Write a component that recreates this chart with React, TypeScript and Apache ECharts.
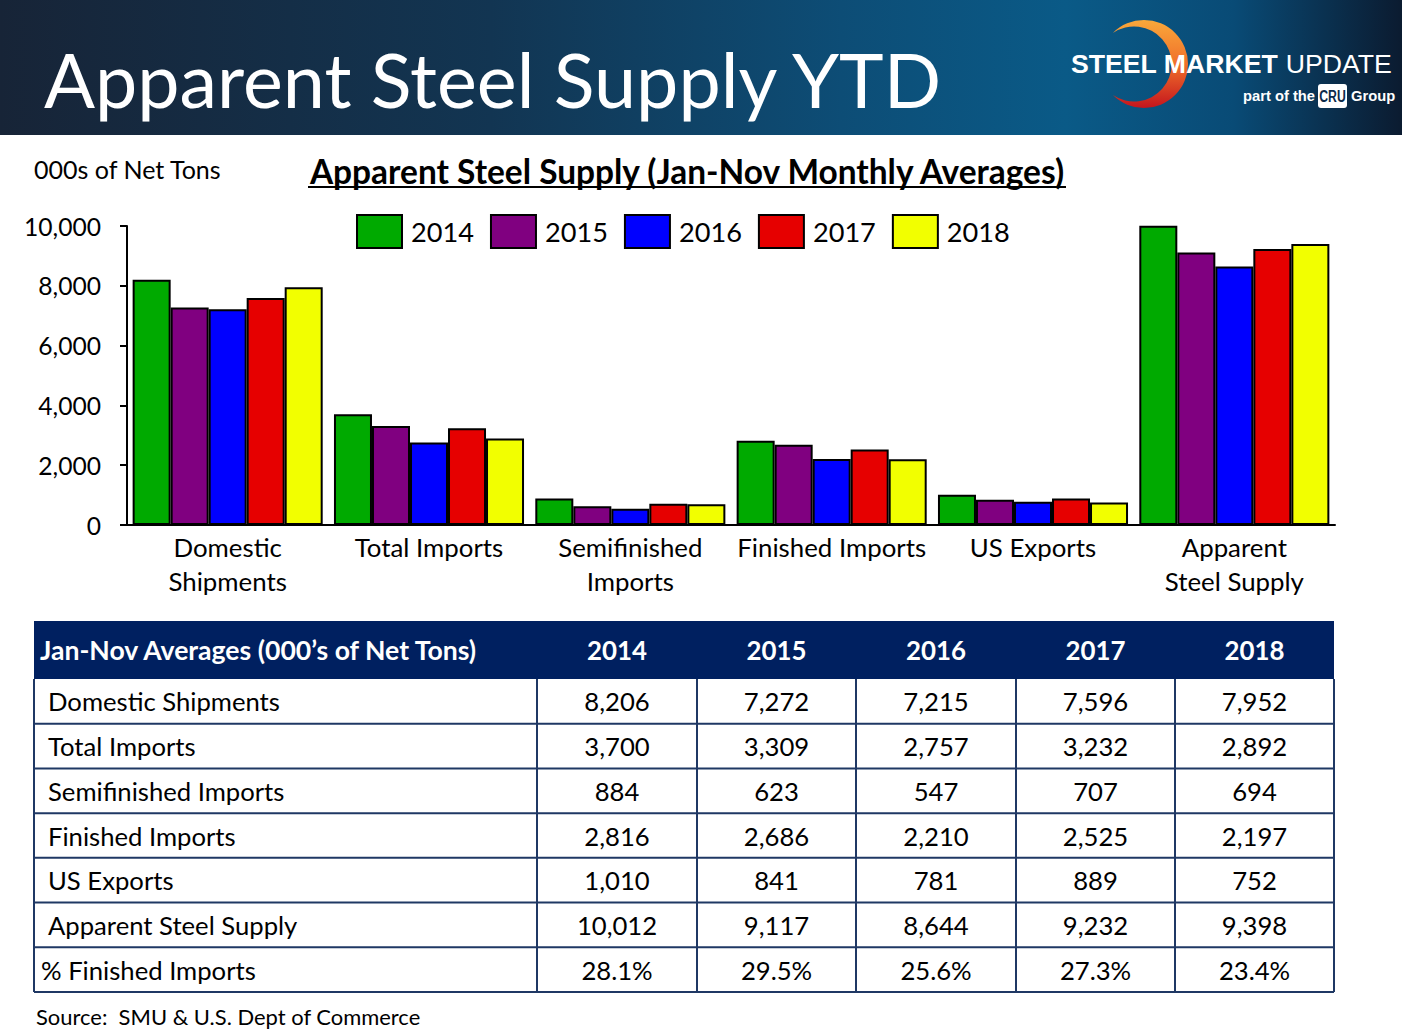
import React, { useEffect, useRef } from 'react';
import * as echarts from 'echarts';

const years = ['2014', '2015', '2016', '2017', '2018'];
const categories = [
  'Domestic Shipments',
  'Total Imports',
  'Semifinished Imports',
  'Finished Imports',
  'US Exports',
  'Apparent Steel Supply',
];
const axisLabelLines = [
  'Domestic\nShipments',
  'Total Imports',
  'Semifinished\nImports',
  'Finished Imports',
  'US Exports',
  'Apparent\nSteel Supply',
];
const values2014 = [8206, 3700, 884, 2816, 1010, 10012];
const values2015 = [7272, 3309, 623, 2686, 841, 9117];
const values2016 = [7215, 2757, 547, 2210, 781, 8644];
const values2017 = [7596, 3232, 707, 2525, 889, 9232];
const values2018 = [7952, 2892, 694, 2197, 752, 9398];
const seriesValues = [values2014, values2015, values2016, values2017, values2018];
const pctFinished = ['28.1%', '29.5%', '25.6%', '27.3%', '23.4%'];
const yMin = 0;
const yMax = 10000;
const yInterval = 2000;
const colors = ['#00aa00', '#800080', '#0000ff', '#e60000', '#f2ff00'];

const FONT = 'Lato';
const LOGO_FONT = 'Liberation Sans';

function measure(text: string, weight: string, family: string, size: number) {
  const c = document.createElement('canvas').getContext('2d') as CanvasRenderingContext2D;
  c.font = `${weight} ${size}px "${family}"`;
  return c.measureText(text).width;
}
function fit(text: string, weight: string, family: string, target: number) {
  return (100 * target) / measure(text, weight, family, 100);
}

let shapeRegistered = false;

export default function App() {
  const ref = useRef<HTMLDivElement>(null);

  useEffect(() => {
    if (!ref.current) return;
    if (!shapeRegistered) {
      const crescentPath =
        'M -31.1 -31.1 A 44 44 0 1 1 -31.1 31.1 A 37.6 37.6 0 1 0 -31.1 -31.1 Z';
      echarts.graphic.registerShape('crescent', echarts.graphic.extendPath(crescentPath, {}) as any);
      shapeRegistered = true;
    }
    const chart = echarts.init(ref.current, undefined, { renderer: 'svg' });

    const titleSize = fit('Apparent Steel Supply YTD', 'normal', FONT, 902);
    const chartTitleText = 'Apparent Steel Supply (Jan-Nov Monthly Averages)';
    const chartTitleSize = fit(chartTitleText, 'bold', FONT, 758);
    const unitSize = fit('000s of Net Tons', 'normal', FONT, 188);
    const yLabelSize = fit('10,000', 'normal', FONT, 77);
    const legendSize = fit('2014', 'normal', FONT, 63);
    const xLabelSize = fit('Finished Imports', 'normal', FONT, 189);
    const thText = 'Jan-Nov Averages (000\u2019s of Net Tons)';
    const thSize = fit(thText, 'bold', FONT, 439);
    const yearHeadSize = fit('2014', 'bold', FONT, 60);
    const tdSize = fit('Domestic Shipments', 'normal', FONT, 232);
    const srcText = 'Source:  SMU & U.S. Dept of Commerce';
    const srcSize = fit(srcText, 'normal', FONT, 385);

    const logoW =
      measure('STEEL MARKET ', 'bold', LOGO_FONT, 100) + measure('UPDATE', 'normal', LOGO_FONT, 100);
    const logoSize = (100 * 321) / logoW;
    const partSize = fit('part of the', 'bold', LOGO_FONT, 72);

    // table geometry
    const tX = [34, 537, 697, 856, 1016, 1175, 1334];
    const hTop = 621;
    const hBot = 679;
    const tBot = 992;
    const nRows = categories.length + 1;
    const rowH = (tBot - hBot) / nRows;
    const navy = '#002060';
    const gridLine = '#1f3864';

    const graphics: any[] = [];
    // header band
    graphics.push({
      type: 'rect',
      z: 0,
      shape: { x: 0, y: 0, width: 1402, height: 135 },
      style: {
        fill: new echarts.graphic.LinearGradient(0, 0, 1, 0, [
          { offset: 0, color: '#172437' },
          { offset: 0.35, color: '#123552' },
          { offset: 0.6, color: '#0d4d76' },
          { offset: 0.76, color: '#0a5a87' },
          { offset: 0.88, color: '#094b76' },
          { offset: 1, color: '#0b1b30' },
        ]),
      },
    });
    graphics.push({
      type: 'text',
      z: 2,
      x: 44,
      y: 78,
      style: {
        text: 'Apparent Steel Supply YTD',
        fill: '#ffffff',
        fontFamily: FONT,
        fontSize: titleSize,
        verticalAlign: 'middle',
        align: 'left',
      },
    });
    // logo
    graphics.push({
      type: 'crescent',
      z: 1,
      x: 1144,
      y: 64,
      style: {
        fill: new echarts.graphic.LinearGradient(0, 0, 0, 1, [
          { offset: 0, color: '#f9a83a' },
          { offset: 0.5, color: '#f0702b' },
          { offset: 1, color: '#c4151d' },
        ]),
      },
    });
    graphics.push({
      type: 'text',
      z: 3,
      x: 1071,
      y: 64,
      style: {
        text: '{a|STEEL MARKET }{b|UPDATE}',
        verticalAlign: 'middle',
        align: 'left',
        rich: {
          a: { fontFamily: LOGO_FONT, fontWeight: 'bold', fontSize: logoSize, fill: '#ffffff' },
          b: { fontFamily: LOGO_FONT, fontWeight: 'normal', fontSize: logoSize, fill: '#ffffff' },
        },
      },
    });
    graphics.push({
      type: 'text',
      z: 3,
      x: 1243,
      y: 96,
      style: {
        text: 'part of the',
        fill: '#ffffff',
        fontFamily: LOGO_FONT,
        fontWeight: 'bold',
        fontSize: partSize,
        verticalAlign: 'middle',
      },
    });
    graphics.push({
      type: 'rect',
      z: 3,
      shape: { x: 1318, y: 84, width: 29, height: 24, r: 3 },
      style: { fill: '#ffffff' },
    });
    graphics.push({
      type: 'text',
      z: 4,
      x: 1332.5,
      y: 96,
      scaleX: 0.72,
      style: {
        text: 'CRU',
        fill: '#0b2a4a',
        fontFamily: LOGO_FONT,
        fontWeight: 'bold',
        fontSize: 17,
        align: 'center',
        verticalAlign: 'middle',
      },
    });
    graphics.push({
      type: 'text',
      z: 3,
      x: 1351,
      y: 96,
      style: {
        text: 'Group',
        fill: '#ffffff',
        fontFamily: LOGO_FONT,
        fontWeight: 'bold',
        fontSize: partSize,
        verticalAlign: 'middle',
      },
    });
    // unit label & chart title
    graphics.push({
      type: 'text',
      x: 34,
      y: 169,
      style: {
        text: '000s of Net Tons',
        fill: '#000',
        fontFamily: FONT,
        fontSize: unitSize,
        verticalAlign: 'middle',
      },
    });
    graphics.push({
      type: 'text',
      x: 687,
      y: 171,
      style: {
        text: chartTitleText,
        fill: '#000',
        fontFamily: FONT,
        fontWeight: 'bold',
        fontSize: chartTitleSize,
        align: 'center',
        verticalAlign: 'middle',
      },
    });
    graphics.push({
      type: 'line',
      shape: { x1: 308, y1: 187, x2: 1066, y2: 187 },
      style: { stroke: '#000', lineWidth: 2.2 },
    });

    // table
    graphics.push({
      type: 'rect',
      shape: { x: tX[0], y: hTop, width: tX[tX.length - 1] - tX[0], height: hBot - hTop },
      style: { fill: navy },
    });
    graphics.push({
      type: 'text',
      x: 40,
      y: (hTop + hBot) / 2,
      style: {
        text: thText,
        fill: '#fff',
        fontFamily: FONT,
        fontWeight: 'bold',
        fontSize: thSize,
        verticalAlign: 'middle',
      },
    });
    years.forEach((yr, j) => {
      graphics.push({
        type: 'text',
        x: (tX[j + 1] + tX[j + 2]) / 2,
        y: (hTop + hBot) / 2,
        style: {
          text: yr,
          fill: '#fff',
          fontFamily: FONT,
          fontWeight: 'bold',
          fontSize: yearHeadSize,
          align: 'center',
          verticalAlign: 'middle',
        },
      });
    });
    for (let i = 1; i <= nRows; i++) {
      const y = hBot + i * rowH;
      graphics.push({
        type: 'line',
        shape: { x1: tX[0], y1: y, x2: tX[tX.length - 1], y2: y },
        style: { stroke: gridLine, lineWidth: 2 },
      });
    }
    tX.forEach((x) => {
      graphics.push({
        type: 'line',
        shape: { x1: x, y1: hBot, x2: x, y2: tBot },
        style: { stroke: gridLine, lineWidth: 2 },
      });
    });
    const rowLabels = [...categories, '% Finished Imports'];
    rowLabels.forEach((lab, r) => {
      const cy = hBot + r * rowH + rowH / 2;
      graphics.push({
        type: 'text',
        x: r === rowLabels.length - 1 ? 41 : 48,
        y: cy,
        style: {
          text: lab,
          fill: '#000',
          fontFamily: FONT,
          fontSize: tdSize,
          verticalAlign: 'middle',
        },
      });
      years.forEach((_, j) => {
        const txt =
          r < categories.length
            ? seriesValues[j][r].toLocaleString('en-US')
            : pctFinished[j];
        graphics.push({
          type: 'text',
          x: (tX[j + 1] + tX[j + 2]) / 2,
          y: cy,
          style: {
            text: txt,
            fill: '#000',
            fontFamily: FONT,
            fontSize: tdSize,
            align: 'center',
            verticalAlign: 'middle',
          },
        });
      });
    });
    graphics.push({
      type: 'text',
      x: 36,
      y: 1016,
      style: {
        text: srcText,
        fill: '#000',
        fontFamily: FONT,
        fontSize: srcSize,
        verticalAlign: 'middle',
      },
    });

    const option: any = {
      animation: false,
      backgroundColor: '#ffffff',
      textStyle: { fontFamily: FONT },
      grid: { left: 127, right: 67, top: 226, bottom: 506, containLabel: false },
      legend: {
        left: 356,
        top: 214,
        padding: 0,
        itemWidth: 45,
        itemHeight: 33,
        itemGap: 16,
        icon: 'rect',
        itemStyle: { borderColor: '#000', borderWidth: 2 },
        textStyle: {
          fontFamily: FONT,
          fontSize: legendSize,
          color: '#000',
          padding: [0, 0, 0, 4],
        },
        data: years,
      },
      xAxis: {
        type: 'category',
        data: categories,
        axisLine: { show: true, lineStyle: { color: '#000', width: 2 } },
        axisTick: { show: false },
        axisLabel: {
          interval: 0,
          margin: 5,
          color: '#000',
          fontFamily: FONT,
          fontSize: xLabelSize,
          lineHeight: 34,
          formatter: (_v: string, idx: number) => axisLabelLines[idx],
        },
      },
      yAxis: {
        type: 'value',
        min: yMin,
        max: yMax,
        interval: yInterval,
        axisLine: { show: true, lineStyle: { color: '#000', width: 2 } },
        axisTick: { show: true, length: 7, lineStyle: { color: '#000', width: 2 } },
        splitLine: { show: false },
        axisLabel: {
          margin: 26,
          color: '#000',
          fontFamily: FONT,
          fontSize: yLabelSize,
          formatter: (v: number) => v.toLocaleString('en-US'),
        },
      },
      series: years.map((yr, i) => ({
        name: yr,
        type: 'bar',
        data: seriesValues[i],
        barGap: '0%',
        barCategoryGap: '5.6%',
        itemStyle: { color: colors[i], borderColor: '#000', borderWidth: 2 },
      })),
      graphic: { elements: graphics },
    };

    chart.setOption(option);
    return () => {
      chart.dispose();
    };
  }, []);

  return (
    <div
      ref={ref}
      style={{ position: 'fixed', left: 0, top: 0, width: 1402, height: 1031, background: '#fff' }}
    />
  );
}
